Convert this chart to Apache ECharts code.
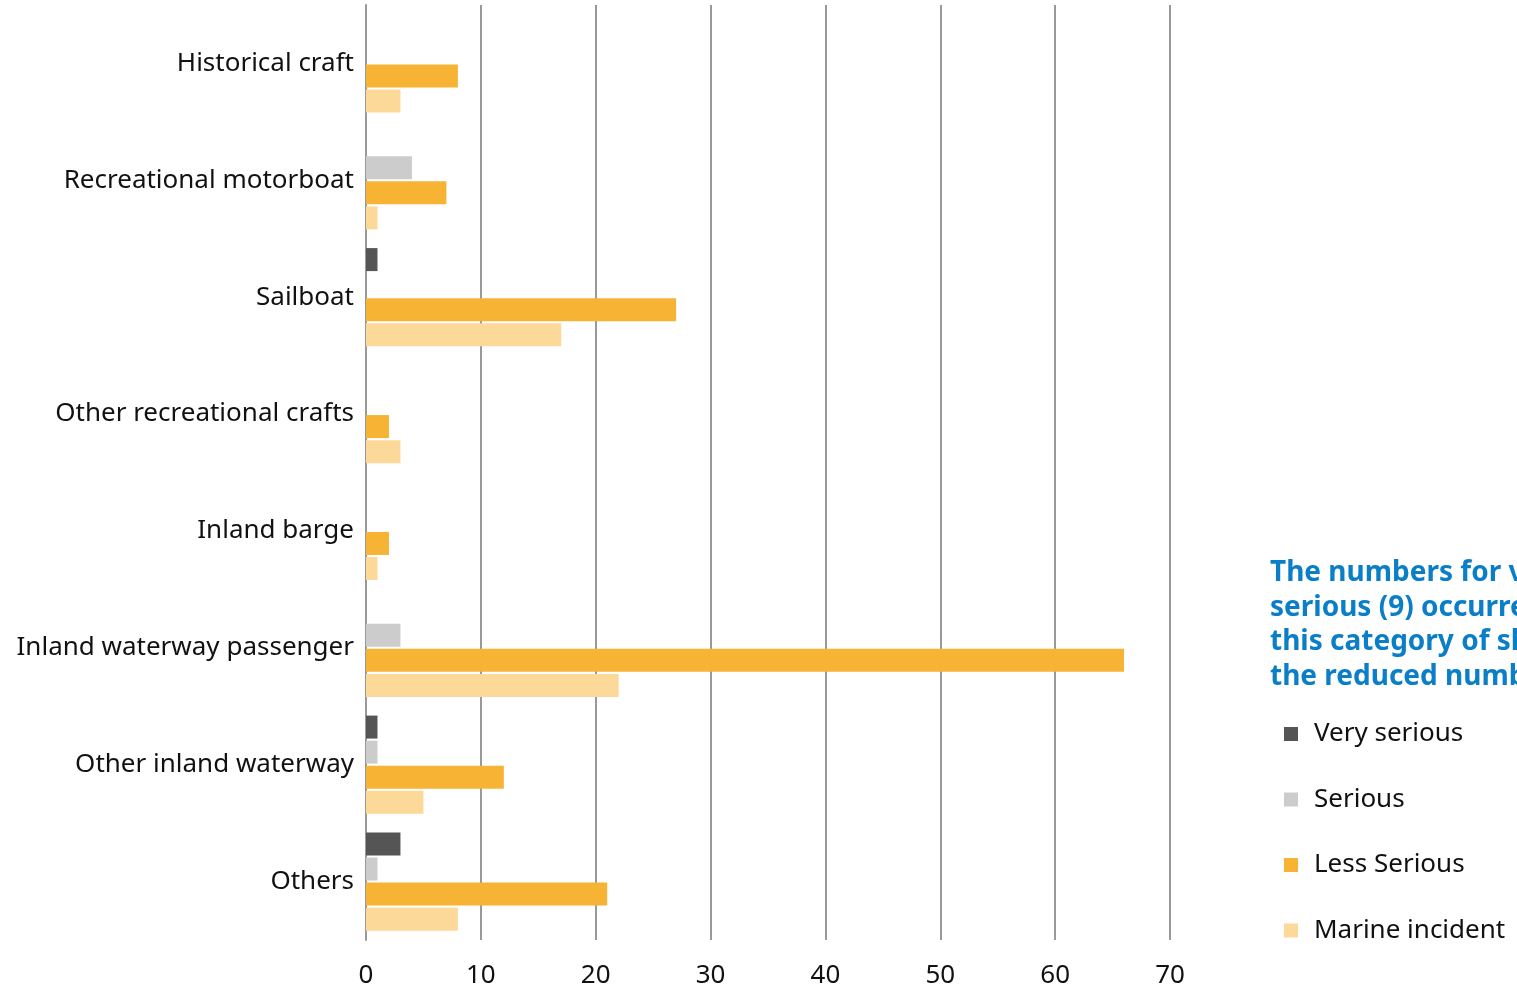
<!DOCTYPE html>
<html>
<head>
<meta charset="utf-8">
<script src="https://cdn.jsdelivr.net/npm/echarts@6/dist/echarts.min.js"></script>
<style>
html,body{margin:0;padding:0;background:#fff;overflow:hidden;}
#chart{width:1517px;height:993px;}
</style>
</head>
<body>
<div id="chart"></div>
<script>
const categories = ["Historical craft","Recreational motorboat","Sailboat","Other recreational crafts","Inland barge","Inland waterway passenger","Other inland waterway","Others"];
const verySerious = [0,0,1,0,0,0,1,3];
const serious = [0,4,0,0,0,3,1,1];
const lessSerious = [8,7,27,2,2,66,12,21];
const marineIncident = [3,1,17,3,1,22,5,8];
const xTicks = [0,10,20,30,40,50,60,70];
const noteLines = ["The numbers for very","serious (9) occurrences in","this category of ships","the reduced number of"];

const FONT = "Noto Sans";
const chart = echarts.init(document.getElementById('chart'), null, {renderer:'canvas'});
function bar(name, data, color){
  return {name, type:'bar', data, barGap:'9%', barCategoryGap:'16%',
    itemStyle:{color}, emphasis:{disabled:true}};
}
chart.setOption({
  animation:false,
  textStyle:{fontFamily:FONT},
  grid:{left:366, right:347, top:5, height:935, containLabel:false},
  xAxis:{type:'value', min:xTicks[0], max:xTicks[xTicks.length-1], interval:10,
    axisLine:{show:false}, axisTick:{show:false},
    splitLine:{show:true, lineStyle:{color:'#999', width:2}},
    axisLabel:{color:'#111', fontSize:26, fontFamily:FONT, margin:23}},
  yAxis:{type:'category', data:categories, inverse:true,
    axisLine:{show:true, lineStyle:{color:'#999', width:2}},
    axisTick:{show:false},
    axisLabel:{color:'#111', fontSize:26, fontFamily:FONT, margin:12}},
  legend:{orient:'vertical', left:1284, top:721, padding:0, itemWidth:14, itemHeight:14, itemGap:39.5,
    icon:'rect', textStyle:{color:'#111', fontSize:26, lineHeight:26, fontFamily:FONT, padding:[0,0,0,11]},
    selectedMode:false},
  graphic: noteLines.map((t,i)=>({type:'text', left:1270, top:559+i*34.7,
    style:{text:t, fill:'#0a7fc8', font:'bold 28px "'+FONT+'"'}})),
  series:[
    bar('Very serious', verySerious, '#555555'),
    bar('Serious', serious, '#cccccc'),
    bar('Less Serious', lessSerious, '#f7b334'),
    bar('Marine incident', marineIncident, '#fcd899')
  ]
});
</script>
</body>
</html>
